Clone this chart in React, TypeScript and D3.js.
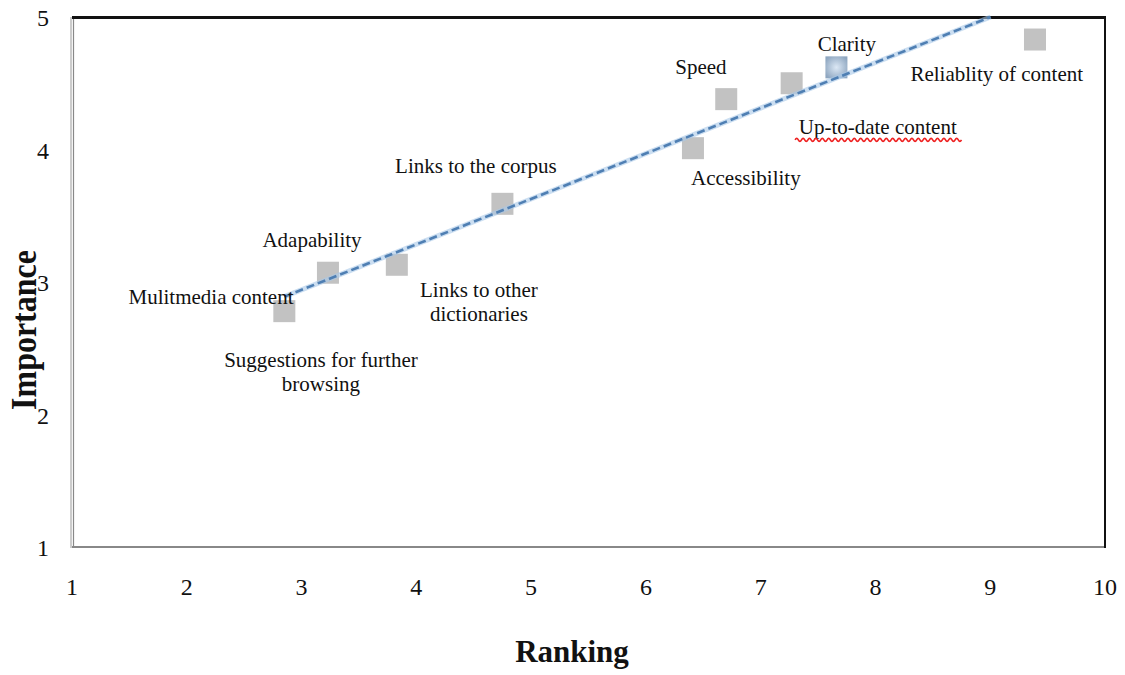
import React from "react";
import * as d3 from "d3";

const rankings = [2.85, 3.23, 3.83, 4.75, 6.41, 6.70, 7.27, 7.66, 9.39];
const importance = [2.78, 3.07, 3.13, 3.59, 4.01, 4.38, 4.50, 4.62, 4.83];
const xTicks = [1, 2, 3, 4, 5, 6, 7, 8, 9, 10];
const yTicks = [1, 2, 3, 4, 5];
// trend line: importance = slope * ranking + intercept
const trendSlope = 0.343;
const trendIntercept = 1.912;
const trendStartX = 2.85;

// annotation labels, in data coordinates (baseline of first line)
const labelTexts = [
  ["Speed"],
  ["Clarity"],
  ["Reliablity of content"],
  ["Up-to-date content"],
  ["Links to the corpus"],
  ["Accessibility"],
  ["Adapability"],
  ["Mulitmedia content"],
  ["Links to other", "dictionaries"],
  ["Suggestions for further", "browsing"],
];
const labelX = [6.479, 7.751, 9.057, 8.02, 4.519, 6.871, 3.091, 2.211, 4.545, 3.169];
const labelY = [4.570, 4.743, 4.520, 4.117, 3.823, 3.732, 3.264, 2.834, 2.887, 2.358];

const W = 1125;
const H = 675;

export default function App() {
  const x = d3.scaleLinear().domain([1, 10]).range([72, 1105]);
  const y = d3.scaleLinear().domain([1, 5]).range([547, 17]);
  const sq = 22;
  const endX = (5 - trendIntercept) / trendSlope;
  const trend = d3.line<number>()
    .x((d) => x(d))
    .y((d) => y(trendSlope * d + trendIntercept))([trendStartX, endX]);

  const wave = (() => {
    const x0 = x(7.3), x1 = x(8.74), yy = y(4.08) + 1;
    let p = `M${x0},${yy}`;
    const step = 3.2;
    let up = true;
    for (let xx = x0; xx < x1; xx += step) {
      p += ` Q${xx + step / 2},${yy + (up ? -3 : 3)} ${xx + step},${yy}`;
      up = !up;
    }
    return p;
  })();

  return (
    <svg width={W} height={H} style={{ position: "absolute", left: 0, top: 0, background: "#fff" }}
      fontFamily="'Liberation Serif', 'Times New Roman', serif">
      <defs>
        <radialGradient id="clarityGrad" cx="0.5" cy="0.5" r="0.6">
          <stop offset="0%" stopColor="#dce8f5" />
          <stop offset="100%" stopColor="#8ea6c0" />
        </radialGradient>
      </defs>
      {/* frame */}
      <line x1={71} y1={17} x2={71} y2={548} stroke="#999" strokeWidth={1} />
      <line x1={73.5} y1={17} x2={73.5} y2={548} stroke="#888" strokeWidth={1.2} />
      <line x1={72} y1={547} x2={1105} y2={547} stroke="#888" strokeWidth={2} />
      <line x1={1105} y1={17} x2={1105} y2={548} stroke="#111" strokeWidth={2} />
      <line x1={72} y1={17.5} x2={1106} y2={17.5} stroke="#111" strokeWidth={3} />

      {/* tick labels */}
      {xTicks.map((t) => (
        <text key={"x" + t} x={x(t)} y={595} fontSize={24} textAnchor="middle" fill="#111">{t}</text>
      ))}
      {yTicks.map((t) => (
        <text key={"y" + t} x={43} y={y(t) + 9} fontSize={24} textAnchor="middle" fill="#111">{t}</text>
      ))}

      {/* points */}
      {rankings.map((r, i) => (
        <rect key={"p" + i} x={x(r) - sq / 2} y={y(importance[i]) - sq / 2} width={sq} height={sq}
          fill={i === 7 ? "url(#clarityGrad)" : "#c2c2c2"} />
      ))}

      {/* trend line */}
      <path d={trend || ""} fill="none" stroke="#a9c8e8" strokeWidth={5} strokeOpacity={0.6} />
      <path d={trend || ""} fill="none" stroke="#4f7fb3" strokeWidth={2.6} strokeDasharray="8 4" />

      {/* labels */}
      {labelTexts.map((lines, i) => (
        <text key={"l" + i} x={x(labelX[i])} y={y(labelY[i])} fontSize={21} textAnchor="middle" fill="#111">
          {lines.map((ln, j) => (
            <tspan key={j} x={x(labelX[i])} dy={j === 0 ? 0 : 24}>{ln}</tspan>
          ))}
        </text>
      ))}
      <path d={wave} fill="none" stroke="#ee2222" strokeWidth={1.6} />

      {/* axis titles */}
      <text x={572} y={662} fontSize={31} fontWeight="bold" textAnchor="middle" fill="#111">Ranking</text>
      <text transform="translate(36,330) scale(1.12,1) rotate(-90)" fontSize={32} fontWeight="bold" textAnchor="middle" fill="#111">Importance</text>
    </svg>
  );
}
